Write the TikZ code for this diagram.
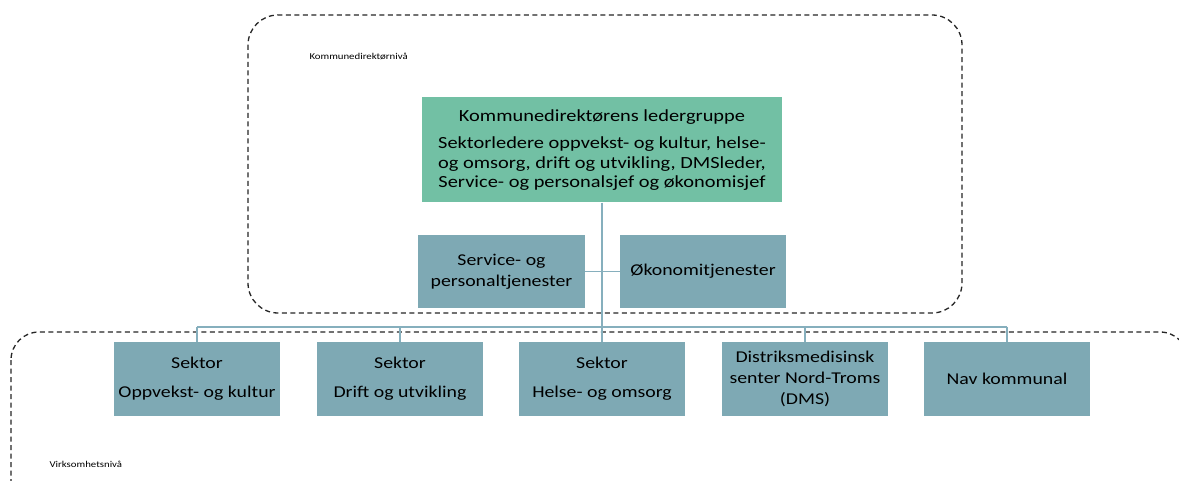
\documentclass[tikz,border=0pt]{standalone}
\usepackage{fontspec}
\setmainfont{Carlito}[FakeStretch=1.2]
\definecolor{ledergronn}{HTML}{72C0A4}
\definecolor{enhetblaa}{HTML}{7EA9B4}
\definecolor{linjeblaa}{HTML}{86AFBD}
\tikzset{
  niva/.style={draw=black!85, line width=1.3pt, dash pattern=on 5pt off 3.5pt},
  enhet/.style={fill=enhetblaa, minimum width=166pt, minimum height=74pt, align=center, font=\fontsize{16.5}{21}\selectfont, inner sep=0pt},
  linje/.style={draw=linjeblaa, line width=1.3pt}
}
\begin{document}
\begin{tikzpicture}[x=1pt,y=-1pt]
		\clip (0,0) rectangle (1179,481);
		\fill[white] (0,0) rectangle (1179,481);
		\draw[niva, rounded corners=30pt] (248,15) rectangle (962,313);
		\draw[niva, rounded corners=28pt] (11,332) rectangle (1188,530);
		\node[anchor=west, font=\fontsize{9}{10}\selectfont] (toppniva) at (306,56) {Kommunedirektørnivå};
		\node[anchor=west, font=\fontsize{9}{10}\selectfont] (virkniva) at (46,464) {Virksomhetsnivå};
		\node[fill=ledergronn, minimum width=360pt, minimum height=105pt, align=center, font=\fontsize{17}{19.5}\selectfont, inner sep=0pt] (leder) at (602,150)
			{Kommunedirektørens ledergruppe\\[8pt]Sektorledere oppvekst- og kultur, helse-\\og omsorg, drift og utvikling, DMSleder,\\Service- og personalsjef og økonomisjef};
		\node[enhet, minimum width=167pt, minimum height=73pt] (service) at (501.5,271.5) {Service- og\\personaltjenester};
		\node[enhet, minimum width=166pt, minimum height=73pt] (okonomi) at (703,271.5) {Økonomitjenester};
		\node[enhet] (oppvekst) at (197,379) {Sektor\\[8pt]Oppvekst- og kultur};
		\node[enhet] (drift) at (400,379) {Sektor\\[8pt]Drift og utvikling};
		\node[enhet] (helse) at (602,379) {Sektor\\[8pt]Helse- og omsorg};
		\node[enhet] (dms) at (805,379) {Distriksmedisinsk\\senter Nord-Troms\\(DMS)};
		\node[enhet] (nav) at (1007,379) {Nav kommunal};
		\coordinate (buss) at (602,327);
		\draw[linje] (leder.south) -- (buss);
		\draw[linje] (service.east) -- (okonomi.west);
		\draw[linje] (buss -| oppvekst.north) -- (buss -| nav.north);
		\foreach \enh in {oppvekst,drift,helse,dms,nav}
			\draw[linje] (buss -| \enh.north) -- (\enh.north);
\end{tikzpicture}
\end{document}
